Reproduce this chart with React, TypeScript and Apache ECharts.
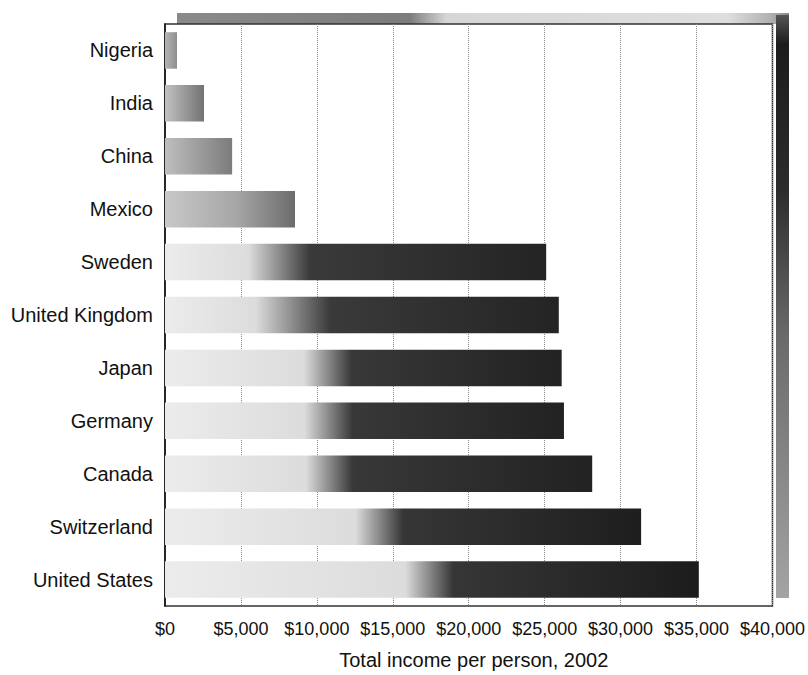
import React, { useEffect, useRef } from "react";
import * as echarts from "echarts";

const countries = [
  "Nigeria",
  "India",
  "China",
  "Mexico",
  "Sweden",
  "United Kingdom",
  "Japan",
  "Germany",
  "Canada",
  "Switzerland",
  "United States",
];
const incomePerPerson = [790, 2570, 4420, 8560, 25100, 25930, 26120, 26270, 28130, 31350, 35150];
const xTicks = [0, 5000, 10000, 15000, 20000, 25000, 30000, 35000, 40000];
const axisTitle = "Total income per person, 2002";

// shading of each bar (gradient colour stops along the bar)
const barShades: [number, string][][] = [
  [[0, "#b4b4b4"], [1, "#8e8e8e"]],
  [[0, "#c2c2c2"], [1, "#727272"]],
  [[0, "#bebebe"], [1, "#7c7c7c"]],
  [[0, "#c8c8c8"], [0.55, "#a6a6a6"], [1, "#6c6c6c"]],
  [[0, "#ececec"], [0.22, "#dcdcdc"], [0.38, "#3a3a3a"], [1, "#242424"]],
  [[0, "#ececec"], [0.23, "#dcdcdc"], [0.42, "#3a3a3a"], [1, "#242424"]],
  [[0, "#ececec"], [0.35, "#dcdcdc"], [0.47, "#383838"], [1, "#222222"]],
  [[0, "#ececec"], [0.35, "#dcdcdc"], [0.47, "#383838"], [1, "#222222"]],
  [[0, "#ececec"], [0.33, "#dcdcdc"], [0.44, "#383838"], [1, "#222222"]],
  [[0, "#ececec"], [0.4, "#dcdcdc"], [0.5, "#363636"], [1, "#1e1e1e"]],
  [[0, "#ececec"], [0.45, "#dcdcdc"], [0.54, "#363636"], [1, "#1c1c1c"]],
];

const fmtMoney = (v: number) => "$" + v.toLocaleString("en-US");

export default function App() {
  const ref = useRef<HTMLDivElement>(null);

  useEffect(() => {
    document.body.style.margin = "0";
    if (!ref.current) return;
    const chart = echarts.init(ref.current, null, { renderer: "svg" });
    const font = "'Liberation Sans', Arial, Helvetica, sans-serif";

    const grad = (x2: number, y2: number, stops: [number, string][]) =>
      new echarts.graphic.LinearGradient(
        0,
        0,
        x2,
        y2,
        stops.map(([offset, color]) => ({ offset, color }))
      );

    chart.setOption({
      animation: false,
      backgroundColor: "#ffffff",
      textStyle: { fontFamily: font },
      graphic: [
        {
          type: "rect",
          z: -1,
          shape: { x: 177, y: 13, width: 612, height: 11 },
          style: {
            fill: grad(1, 0, [
              [0, "#8a8a8a"],
              [0.38, "#7c7c7c"],
              [0.44, "#d6d6d6"],
              [0.9, "#dedede"],
              [0.97, "#b0b0b0"],
              [1, "#8a8a8a"],
            ]),
          },
        },
        {
          type: "rect",
          z: -1,
          shape: { x: 776, y: 15, width: 13, height: 583 },
          style: {
            fill: grad(0, 1, [
              [0, "#555555"],
              [0.05, "#1c1c1c"],
              [0.3, "#2c2c2c"],
              [0.55, "#6a6a6a"],
              [1, "#a4a4a4"],
            ]),
          },
        },
      ],
      grid: {
        left: 165,
        right: 33,
        top: 24,
        bottom: 66,
        show: true,
        borderColor: "#333333",
        borderWidth: 1.5,
        backgroundColor: "#ffffff",
      },
      xAxis: {
        type: "value",
        min: xTicks[0],
        max: xTicks[xTicks.length - 1],
        interval: xTicks[1] - xTicks[0],
        name: axisTitle,
        nameLocation: "middle",
        nameGap: 44,
        nameTextStyle: {
          fontSize: 20,
          color: "#111111",
          fontFamily: font,
          padding: [0, 0, 0, 10],
        },
        axisLine: { show: false },
        axisTick: { show: false },
        axisLabel: {
          formatter: (v: number) => fmtMoney(v),
          fontSize: 18,
          color: "#111111",
          margin: 14,
          fontFamily: font,
        },
        splitLine: {
          show: true,
          lineStyle: { color: "#8a8a8a", type: "dotted", width: 1 },
        },
      },
      yAxis: {
        type: "category",
        inverse: true,
        data: countries,
        axisLine: { show: true, lineStyle: { color: "#111111", width: 1.5 } },
        axisTick: { show: false },
        axisLabel: {
          fontSize: 20,
          color: "#111111",
          margin: 12,
          fontFamily: font,
        },
        splitLine: { show: false },
      },
      series: [
        {
          type: "bar",
          barCategoryGap: "31%",
          data: incomePerPerson.map((v, i) => ({
            value: v,
            itemStyle: { color: grad(1, 0, barShades[i]) },
          })),
        },
      ],
    });

    return () => chart.dispose();
  }, []);

  return <div ref={ref} style={{ width: 808, height: 675 }} />;
}
